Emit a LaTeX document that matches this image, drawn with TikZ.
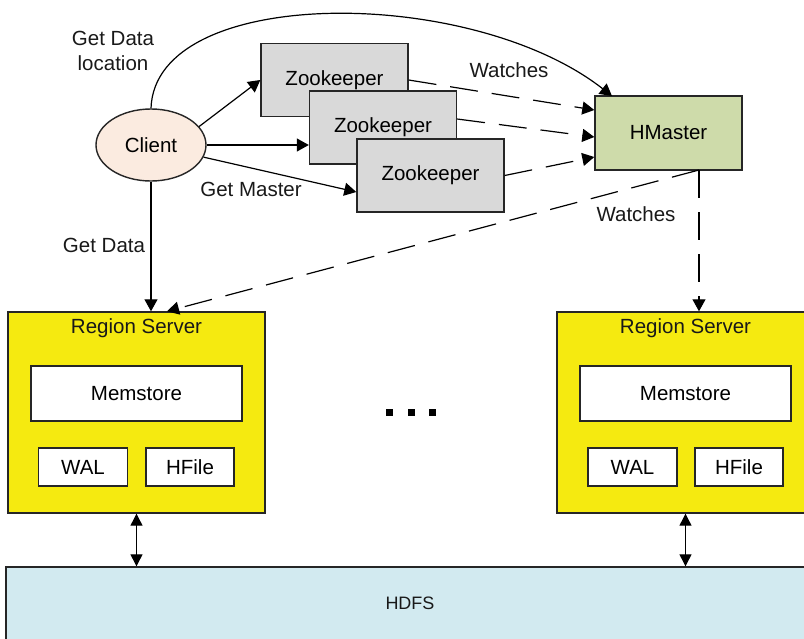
\documentclass[tikz,border=0pt]{standalone}
\usepackage{fontspec}
\setmainfont{Liberation Sans}
\usetikzlibrary{arrows.meta,shapes.geometric,calc}
\definecolor{edge}{RGB}{38,38,38}
\definecolor{clientfill}{RGB}{251,235,224}
\definecolor{zkfill}{RGB}{217,217,217}
\definecolor{hmfill}{RGB}{206,219,170}
\definecolor{rsfill}{RGB}{245,234,16}
\definecolor{hdfsfill}{RGB}{210,234,240}
\begin{document}
\begin{tikzpicture}[x=1pt,y=-1pt,
  font=\fontsize{20.5}{25}\selectfont,
  box/.style={draw=edge,line width=1.4pt,inner sep=0pt,rectangle},
  zkbox/.style={box,fill=zkfill,minimum width=147pt,minimum height=73pt},
  inbox/.style={box,fill=white},
  lbl/.style={inner sep=0pt,text=black!90},
  arr/.style={line width=1.2pt,draw=black,-{Triangle[length=12pt,width=13pt]}},
  darr/.style={arr,dash pattern=on 28pt off 14pt},
  dbl/.style={line width=1.2pt,draw=black,{Triangle[length=12pt,width=12pt]}-{Triangle[length=12pt,width=12pt]}},
  dot/.style={fill=black,inner sep=0pt,minimum size=7pt,rectangle}]
\useasboundingbox (0,0) rectangle (804,638);
\clip (0,0) rectangle (804,638);
% bottom layer
\node[box,fill=hdfsfill,minimum width=824pt,minimum height=92pt] (hdfs) at (418,613) {};
\node[lbl,font=\fontsize{18}{22}\selectfont] (hdfst) at (410,603) {HDFS};
% region servers
\node[box,fill=rsfill,minimum width=257pt,minimum height=201pt] (rs1) at (136.5,412.5) {};
\node[lbl] (rs1t) at (136.5,328) {Region Server};
\node[inbox,minimum width=211pt,minimum height=55pt] (mem1) at (136.5,393.5) {Memstore};
\node[inbox,minimum width=89pt,minimum height=38pt] (wal1) at (83,467) {WAL};
\node[inbox,minimum width=88pt,minimum height=38pt] (hf1) at (190,467) {HFile};
\node[box,fill=rsfill,minimum width=257pt,minimum height=201pt] (rs2) at (685.5,412.5) {};
\node[lbl] (rs2t) at (685.5,328) {Region Server};
\node[inbox,minimum width=211pt,minimum height=55pt] (mem2) at (685.5,393.5) {Memstore};
\node[inbox,minimum width=89pt,minimum height=38pt] (wal2) at (632.5,467) {WAL};
\node[inbox,minimum width=88pt,minimum height=38pt] (hf2) at (739,467) {HFile};
% dots
\node[dot] (d1) at (389.5,412.5) {};
\node[dot] (d2) at (411.5,412.5) {};
\node[dot] (d3) at (432.5,412.5) {};
% top
\node[ellipse,draw=edge,line width=1.4pt,fill=clientfill,minimum width=110pt,minimum height=72pt,inner sep=0pt] (client) at (151,145) {Client};
\node[zkbox] (zk1) at (334.5,80) {Zookeeper};
\node[zkbox] (zk2) at (383,127.5) {Zookeeper};
\node[zkbox] (zk3) at (430.5,175.5) {Zookeeper};
\node[box,fill=hmfill,minimum width=147pt,minimum height=74pt] (hm) at (668.5,133) {HMaster};
\coordinate (hmtop) at (612,96);
\coordinate (hmout) at (699,170);
% connectors
\draw[arr] (client.north) .. controls (155,-15) and (470,-15) .. (hmtop);
\draw[arr] (client.21) -- (zk1.west);
\draw[arr] (client.east) -- (client.east -| zk2.west);
\draw[arr] (client.-13) -- ($(zk3.west)+(0,16.5)$);
\draw[arr] (client.south) -- (client.south |- rs1.north);
\draw[darr] (zk1.east) -- ($(hm.west)+(0,-23)$);
\draw[darr] ($(zk2.east)+(0,-8.5)$) -- ($(hm.west)+(0,4)$);
\draw[darr] (zk3.east) -- ($(hm.west)+(0,24)$);
\draw[darr] (hmout) -- (hmout |- rs2.north);
\draw[darr] (hmout) -- ($(rs1.north)+(30.5,0)$);
\draw[dbl] (rs1.south) -- (rs1.south |- hdfs.north);
\draw[dbl] (rs2.south) -- (rs2.south |- hdfs.north);
% labels
\node[lbl,align=center] (lloc) at (113,51) {Get Data\\location};
\node[lbl] (lwatch1) at (509,70) {Watches};
\node[lbl] (lmaster) at (251,189) {Get Master};
\node[lbl] (lgetdata) at (104,245) {Get Data};
\node[lbl] (lwatch2) at (636,214) {Watches};
\end{tikzpicture}
\end{document}
